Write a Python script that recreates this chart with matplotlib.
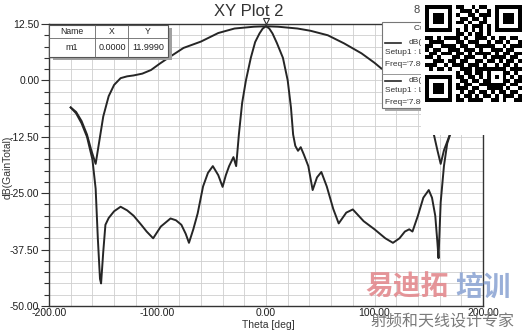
import matplotlib
matplotlib.use("Agg")
import matplotlib.pyplot as plt
import matplotlib.patches as mpatches
from matplotlib.ticker import MultipleLocator, FormatStrFormatter
import numpy as np

plt.rcParams["font.family"] = ["Liberation Sans", "DejaVu Sans"]
plt.rcParams["axes.unicode_minus"] = False

# wide beam curve (dB GainTotal vs theta)
theta_wide = [-180, -175, -170, -165, -161, -157, -154, -150, -145, -140, -134, -128,
              -122, -114, -106, -98, -90, -76, -60, -44, -29, -11, 0, 11, 29, 41, 57,
              72, 88, 100, 106, 115, 125, 135, 140, 145, 150, 155, 158, 161, 164, 169,
              175, 180]
gain_wide = [-6, -7, -9, -12, -15.5, -18.5, -14, -8, -3.5, -1, 0.5, 0.9,
             1.1, 1.5, 2.3, 3.7, 5.0, 7.2, 8.6, 10.5, 11.5, 11.9, 12.0, 11.9, 11.5, 11.0, 10.0,
             8.2, 6.0, 3.9, 2.7, 1.5, 1.1, 0.5, -0.8, -3.5, -8, -12.3, -15.5, -18.5, -15.5, -12.3,
             -8, -6]

# narrow beam curve
theta_narrow = [-180, -175, -170, -165, -160, -157, -155, -153, -152, -150, -148, -145,
                -140, -134, -128, -122, -115, -110, -104, -97, -88, -83, -78, -74, -71,
                -67, -63, -58, -53.5, -49, -44, -40, -37, -34, -30, -27.5, -25, -22,
                -18.5, -14, -10, -6, -3, 0, 3, 6, 10, 15.6, 20, 23, 25, 27, 29.5, 32, 35,
                39, 43, 47, 51, 56, 62, 67, 74, 80, 90, 100, 110, 117, 123, 128, 132, 135,
                140, 145, 150, 153, 156, 158, 159, 161, 164, 167, 169, 175, 180]
gain_narrow = [-6, -7.3, -9.5, -12.5, -17.5, -24, -35, -44, -45, -38, -32, -30.5,
               -29, -28, -28.8, -30, -32, -33.5, -35, -32.4, -30.6, -31, -32, -34, -36,
               -33, -29.5, -23.5, -20.5, -19, -21, -23.6, -21, -19, -17, -19, -12, -5,
               0, 5, 8.5, 10.4, 11.5, 12, 11.5, 10.4, 8.3, 5, 0, -6, -12, -14.5, -15.6, -14.8, -16.5,
               -19, -24.3, -21.5, -20.3, -23.5, -28.5, -31.7, -29.3, -28.6, -31.2, -33, -35, -36, -35, -33.5, -33, -33.5,
               -30, -26, -24.3, -26, -30, -36, -39.4, -27, -19, -14, -12.5, -8, -6]

marker_name = "m1"
marker_x = 0.0
marker_y = 11.999

# QR watermark modules (finders / alignment stamped below)
qr_rows = [
    "0000000011001011000000000",
    "0000000001110100100000000",
    "0000000010011011100000000",
    "0000000001101101000000000",
    "0000000011010011000000000",
    "0000000000101110100000000",
    "0000000010101010100000000",
    "0000000011010110100000000",
    "1101011110100111010110110",
    "0111100011011100101101001",
    "1100111101100111110010111",
    "1011001110111010011101100",
    "0110111011010111101011011",
    "1101000110111001011110110",
    "0011101101100110110101101",
    "1110010111011101001011010",
    "0101101001110111111110111",
    "0000000010110110100011010",
    "0000000011011010010110101",
    "0000000001101101101101011",
    "0000000010110011100010110",
    "0000000011101100111101001",
    "0000000001011011010110110",
    "0000000010110101101011101",
    "0000000011011110011010011",
]

W, H = 525, 333
fig = plt.figure(figsize=(W / 100, H / 100), dpi=100)
fig.patch.set_facecolor("white")

ax = fig.add_axes([49 / W, 1 - 306 / H, (483 - 49) / W, (306 - 24) / H])
ax.plot(theta_wide, gain_wide, color="#262626", lw=1.4, zorder=3)
ax.plot(theta_narrow, gain_narrow, color="#262626", lw=1.4, zorder=3)
ax.plot([marker_x], [marker_y + 1.2], marker="v", ms=5, mfc="white",
        mec="#333333", mew=0.8, clip_on=False, zorder=4)

ax.set_xlim(-200, 200)
ax.set_ylim(-50, 12.5)
ax.xaxis.set_major_locator(MultipleLocator(100))
ax.xaxis.set_minor_locator(MultipleLocator(20))
ax.yaxis.set_major_locator(MultipleLocator(12.5))
ax.yaxis.set_minor_locator(MultipleLocator(2.5))
ax.xaxis.set_major_formatter(FormatStrFormatter("%.2f"))
ax.yaxis.set_major_formatter(FormatStrFormatter("%.2f"))
ax.grid(which="both", color="#cfcfcf", lw=0.6)
ax.set_axisbelow(True)
for spine in ax.spines.values():
    spine.set_color("#333333")
    spine.set_linewidth(1.0)

ax.tick_params(axis="y", which="major", length=6, width=0.8, labelsize=7.5,
               pad=1, colors="#333333", labelcolor="#1e1e1e")
ax.tick_params(axis="y", which="minor", length=3.5, width=0.8, colors="#333333")
ax.tick_params(axis="x", which="both", direction="in", length=0, labelsize=7.5,
               pad=1.5, labelcolor="#1e1e1e")

fig.text(249 / W, 1 - 12 / H, "XY Plot 2", fontsize=12, ha="center", va="center",
         color="#333333")
fig.text(8 / W, 1 - 167 / H, "dB(GainTotal)", rotation=90, fontsize=7.5,
         ha="center", va="center", color="#333333")
fig.text(268 / W, 1 - 325 / H, "Theta [deg]", fontsize=7.5, ha="center",
         va="center", color="#333333")

# overlay in pixel coords for table, legend, QR and watermark
ov = fig.add_axes([0, 0, 1, 1])
ov.set_xlim(0, W)
ov.set_ylim(H, 0)
ov.axis("off")
ov.patch.set_alpha(0)

# marker table
ov.add_patch(mpatches.Rectangle((53, 28), 119, 32, fc="#a0a0a0", ec="none", zorder=2))
ov.add_patch(mpatches.Rectangle((49, 25), 119, 32, fc="white", ec="#555555", lw=0.8, zorder=2))
ov.plot([49, 168], [38, 38], color="#666666", lw=0.6, zorder=3)
ov.plot([95, 95], [25, 57], color="#666666", lw=0.6, zorder=3)
ov.plot([128, 128], [25, 57], color="#666666", lw=0.6, zorder=3)
for cx, txt in zip([72, 112, 148], ["Name", "X", "Y"]):
    ov.text(cx, 32, txt, fontsize=6.2, ha="center", va="center", color="#222222", zorder=3)
for cx, txt in zip([72, 112, 148], [marker_name, f"{marker_x:.4f}", f"{marker_y:.4f}"]):
    ov.text(cx, 47.5, txt, fontsize=6.5, ha="center", va="center", color="#222222", zorder=3)

# curve info legend (mostly hidden by the QR)
ov.add_patch(mpatches.Rectangle((385, 25), 50, 86, fc="#a8a8a8", ec="none", zorder=2))
ov.add_patch(mpatches.Rectangle((382, 22), 50, 86, fc="white", ec="#777777", lw=0.8, zorder=2))
ov.plot([382, 432], [74, 74], color="#888888", lw=0.6, zorder=3)
ov.text(414, 29, "Curve Info", fontsize=6, ha="left", va="center", color="#333333", zorder=3)
for y0, phi in [(43, "0deg"), (81, "90deg")]:
    ov.plot([385, 401], [y0, y0], color="#262626", lw=1.2, zorder=3)
    ov.text(409, y0, "dB(GainTotal)", fontsize=6, ha="left", va="center", color="#333333", zorder=3)
    ov.text(385, y0 + 10, "Setup1 : LastAdaptive", fontsize=6, ha="left", va="center",
            color="#333333", zorder=3)
    ov.text(385, y0 + 21, f"Freq='7.8GHz' Phi='{phi}'", fontsize=6, ha="left", va="center",
            color="#333333", zorder=3)
ov.text(413, 10, "8", fontsize=8, ha="left", va="center", color="#444444", zorder=3)

# QR code on white patch
ov.add_patch(mpatches.Rectangle((421, 0), 104, 135, fc="white", ec="none", zorder=5))
qr = np.array([[int(c) for c in row] for row in qr_rows])
finder = np.ones((7, 7), dtype=int)
finder[1:6, 1:6] = 0
finder[2:5, 2:5] = 1
qr[0:7, 0:7] = finder
qr[0:7, 18:25] = finder
qr[18:25, 0:7] = finder
qr[7, 0:8] = 0
qr[0:8, 7] = 0
qr[7, 17:25] = 0
qr[0:8, 17] = 0
qr[17, 0:8] = 0
qr[17:25, 7] = 0
align = np.ones((5, 5), dtype=int)
align[1:4, 1:4] = 0
align[2, 2] = 1
qr[16:21, 16:21] = align
ov.imshow(qr, cmap="gray_r", extent=(425, 522, 102, 5), interpolation="nearest",
          aspect="auto", zorder=6)
ov.set_xlim(0, W)
ov.set_ylim(H, 0)

# watermark
cjk = ["Noto Sans CJK SC", "DejaVu Sans"]
ov.text(365, 288, "易迪拓", fontsize=20, fontweight="bold", family=cjk, ha="left",
        va="center", color="#e38a8e", alpha=0.9, zorder=7)
ov.text(455, 288, "培训", fontsize=20, fontweight="bold", family=cjk, ha="left",
        va="center", color="#8fa7d4", alpha=0.9, zorder=7)
ov.text(370, 322, "射频和天线设计专家", fontsize=11.5, family=cjk, ha="left",
        va="center", color="#7a7a7a", zorder=7)

fig.savefig("out.png", dpi=100, facecolor="white")
